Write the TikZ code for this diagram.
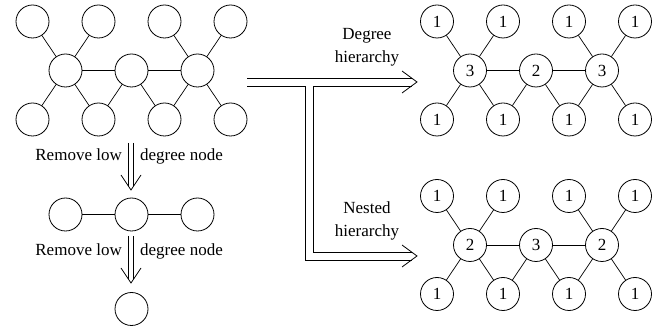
\documentclass[tikz,border=0pt]{standalone}
\usepackage{fontspec}
\setmainfont{Liberation Serif}
\usepackage{tikz}
\usetikzlibrary{calc}
\tikzset{
  vertex/.style  = {circle, draw, line width=0.8pt, minimum size=33pt,
                    inner sep=0pt, font=\fontsize{17}{17}\selectfont},
  edge/.style    = {line width=0.7pt},
  rail/.style    = {line width=0.8pt},
  barb/.style    = {line width=0.8pt},
  caption/.style = {font=\fontsize{17}{23}\selectfont, align=center, inner sep=0pt},
}

% three hubs and eight leaves: #1 prefix, (#2,#3) first hub,
% #4-#6 hub labels, #7 leaf label
\newcommand{\hubgraph}[7]{%
  \begin{scope}[shift={(#2,#3)}]
    \node[vertex] (#1h1) at (0,0) {#4};
    \node[vertex] (#1h2) at (66,0) {#5};
    \node[vertex] (#1h3) at (132,0) {#6};
    \foreach \k in {1,...,4} {
      \node[vertex] (#1t\k) at (-99+66*\k,-49) {#7};
      \node[vertex] (#1b\k) at (-99+66*\k,49) {#7};
    }
    \draw[edge] (#1h1) -- (#1h2) -- (#1h3);
    \draw[edge] (#1t1) -- (#1h1) -- (#1t2);
    \draw[edge] (#1t3) -- (#1h3) -- (#1t4);
    \draw[edge] (#1b1) -- (#1h1) -- (#1b2) -- (#1h2) -- (#1b3) -- (#1h3) -- (#1b4);
  \end{scope}}

\begin{document}
\begin{tikzpicture}[x=1pt, y=-1pt]
  \useasboundingbox (0,0) rectangle (664,328);

  \hubgraph{L}{65.5}{70.5}{}{}{}{}
  \hubgraph{D}{470}{70.5}{3}{2}{3}{1}
  \hubgraph{N}{470}{245}{2}{3}{2}{1}

  % what is left after each cut
  \node[vertex] (r1) at (65.5,214.5) {};
  \node[vertex] (r2) at (131.5,214.5) {};
  \node[vertex] (r3) at (197.5,214.5) {};
  \draw[edge] (r1) -- (r2) -- (r3);
  \node[vertex] (last) at (131.5,309) {};

  % cut arrows: two rails and an open head
  \coordinate (cut1a) at (131,143);
  \coordinate (cut1b) at (131,190);
  \draw[rail] ($(cut1a)+(-2.5,0)$) -- ($(cut1b)+(-2.5,-3.75)$);
  \draw[rail] ($(cut1a)+(2.5,0)$) -- ($(cut1b)+(2.5,-3.75)$);
  \draw[barb] ($(cut1b)+(-10,-15)$) -- (cut1b) -- ($(cut1b)+(10,-15)$);
  \node[caption, anchor=base east] (cut1l) at (122,161) {Remove low};
  \node[caption, anchor=base west] (cut1r) at (140,161) {degree node};

  \coordinate (cut2a) at (131,236);
  \coordinate (cut2b) at (131,283);
  \draw[rail] ($(cut2a)+(-2.5,0)$) -- ($(cut2b)+(-2.5,-3.75)$);
  \draw[rail] ($(cut2a)+(2.5,0)$) -- ($(cut2b)+(2.5,-3.75)$);
  \draw[barb] ($(cut2b)+(-10,-15)$) -- (cut2b) -- ($(cut2b)+(10,-15)$);
  \node[caption, anchor=base east] (cut2l) at (122,256) {Remove low};
  \node[caption, anchor=base west] (cut2r) at (140,256) {degree node};

  % branch into the two hierarchies
  \coordinate (stem) at (247,82);
  \coordinate (branch) at (309,82);
  \coordinate (degtip) at (417,82);
  \coordinate (nesttip) at (417,256);
  \draw[rail] ($(stem)+(0,-4)$) -- ($(degtip)+(-5.5,-4)$);
  \draw[rail] ($(stem)+(0,4)$) -- ($(branch)+(-4,4)$) |- ($(nesttip)+(-5.5,4)$);
  \draw[rail] ($(degtip)+(-5.5,4)$) -- ($(branch)+(4,4)$) |- ($(nesttip)+(-5.5,-4)$);
  \draw[barb] ($(degtip)+(-15,-11)$) -- (degtip) -- ($(degtip)+(-15,11)$);
  \draw[barb] ($(nesttip)+(-15,-11)$) -- (nesttip) -- ($(nesttip)+(-15,11)$);
  \node[caption] (deglabel) at (367,47.7) {Degree\\hierarchy};
  \node[caption] (nestlabel) at (367,220.7) {Nested\\hierarchy};
\end{tikzpicture}
\end{document}
